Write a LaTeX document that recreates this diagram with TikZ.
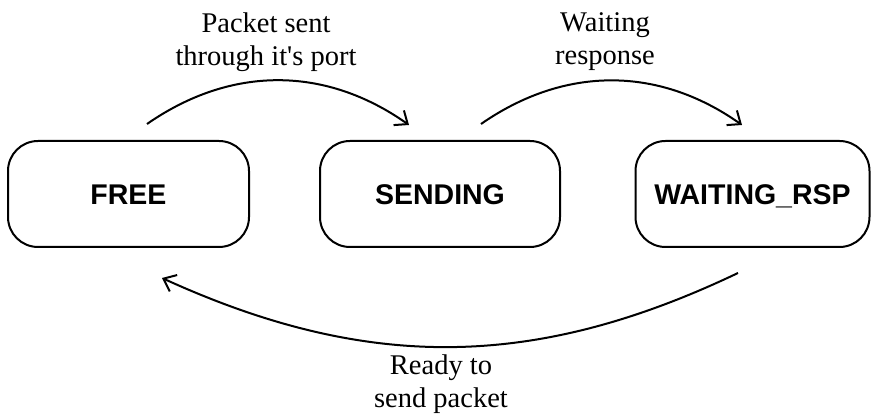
\documentclass[tikz,border=0pt]{standalone}
\usepackage{fontspec}
\setmainfont{Liberation Serif}
\newfontfamily\boxfont{Liberation Sans}
\usetikzlibrary{arrows.meta}
\begin{document}
\begin{tikzpicture}[x=1pt,y=1pt,
  state/.style={draw,line width=2pt,rounded corners=30pt,minimum height=106pt,
    inner sep=0pt,text height=20.4pt,text depth=0pt,
    font=\boxfont\bfseries\fontsize{28.5}{32}\selectfont},
  trans/.style={line width=2pt,-{Straight Barb[length=11pt,width=18pt,line width=2pt]}},
  lbl/.style={align=center,inner sep=0pt,font=\fontsize{28.5}{33}\selectfont}]
\useasboundingbox (0,0) rectangle (871,415);

% states
\node[state,minimum width=241pt] (free) at (128.5,221) {FREE};
\node[state,minimum width=240pt] (sending) at (440,221) {SENDING};
\node[state,minimum width=234pt] (waiting) at (752.5,221) {WAITING\_RSP};

% arc end points
\coordinate (f1) at ([shift={(18.5,16)}]free.north);
\coordinate (s1) at ([shift={(-31,15)}]sending.north);
\coordinate (s2) at ([shift={(41,16)}]sending.north);
\coordinate (w1) at ([shift={(-10.5,15)}]waiting.north);
\coordinate (w2) at ([shift={(-14.5,-25)}]waiting.south);
\coordinate (f2) at ([shift={(33.5,-30)}]free.south);

% transitions
\draw[trans] (f1) to[bend left=35] (s1);
\draw[trans] (s2) to[bend left=35] (w1);
\draw[trans] (w2) to[bend left=25] (f2);

% labels
\node[lbl] (l1) at (266,373) {Packet sent\\through it\textquotesingle s port};
\node[lbl] (l2) at (605,373) {Waiting\\response};
\node[lbl] (l3) at (441,31) {Ready to\\send packet};
\end{tikzpicture}
\end{document}
